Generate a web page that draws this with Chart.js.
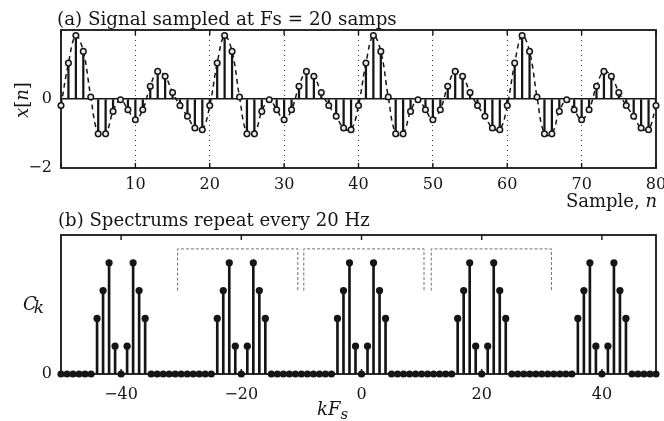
<!DOCTYPE html>
<html>
<head>
<meta charset="utf-8">
<script src="https://cdn.jsdelivr.net/npm/chart.js@4.4.1/dist/chart.umd.min.js"></script>
<style>
  body { margin: 0; background: #fff; }
  #wrap { position: relative; width: 664px; height: 421px; }
  #sigChart { position: absolute; left: 0; top: 0; }
  #specChart { position: absolute; left: 0; top: 200px; }
</style>
</head>
<body>
<div id="wrap">
  <canvas id="sigChart" width="664" height="215"></canvas>
  <canvas id="specChart" width="664" height="221"></canvas>
</div>
<script>
// (a) sampled signal, n = 0..80
const sampleN = Array.from({ length: 81 }, (_, i) => i);
const sampleX = [
  -0.19, 1.04, 1.84, 1.38, 0.06, -1.01, -1.01, -0.36, -0.02, -0.31,
  -0.60, -0.31, 0.37, 0.80, 0.66, 0.19, -0.19, -0.50, -0.84, -0.89,
  -0.19, 1.04, 1.84, 1.38, 0.06, -1.01, -1.01, -0.36, -0.02, -0.31,
  -0.60, -0.31, 0.37, 0.80, 0.66, 0.19, -0.19, -0.50, -0.84, -0.89,
  -0.19, 1.04, 1.84, 1.38, 0.06, -1.01, -1.01, -0.36, -0.02, -0.31,
  -0.60, -0.31, 0.37, 0.80, 0.66, 0.19, -0.19, -0.50, -0.84, -0.89,
  -0.19, 1.04, 1.84, 1.38, 0.06, -1.01, -1.01, -0.36, -0.02, -0.31,
  -0.60, -0.31, 0.37, 0.80, 0.66, 0.19, -0.19, -0.50, -0.84, -0.89,
  -0.19
];
const sigXTicks = [0, 10, 20, 30, 40, 50, 60, 70, 80];
const sigYTicks = [-2, 0];

// (b) spectrum, k = -50..49
const specK = Array.from({ length: 100 }, (_, i) => i - 50);
const specC = [
  0, 0, 0, 0, 0, 0, 2, 3, 4, 1, 0, 1, 4, 3, 2, 0, 0, 0, 0, 0,
  0, 0, 0, 0, 0, 0, 2, 3, 4, 1, 0, 1, 4, 3, 2, 0, 0, 0, 0, 0,
  0, 0, 0, 0, 0, 0, 2, 3, 4, 1, 0, 1, 4, 3, 2, 0, 0, 0, 0, 0,
  0, 0, 0, 0, 0, 0, 2, 3, 4, 1, 0, 1, 4, 3, 2, 0, 0, 0, 0, 0,
  0, 0, 0, 0, 0, 0, 2, 3, 4, 1, 0, 1, 4, 3, 2, 0, 0, 0, 0, 0
];
const specXTicks = [-40, -20, 0, 20, 40];
const specYTicks = [0];
const bracketStart = [-30.6, -9.6, 11.6];
const bracketEnd = [-10.6, 10.4, 31.6];
const bracketLow = 3;
const bracketHigh = 4.5;

const SERIF = '"DejaVu Serif", serif';
const INK = '#151515';

function fmtTick(v) {
  return v < 0 ? '\u2212' + Math.abs(v) : String(v);
}

function drawRuns(ctx, runs, x, y, align) {
  let w = 0;
  runs.forEach(r => { ctx.font = r.font; w += ctx.measureText(r.text).width + (r.kern || 0); });
  let cx = align === 'right' ? x - w : align === 'center' ? x - w / 2 : x;
  runs.forEach(r => {
    ctx.font = r.font;
    ctx.fillText(r.text, cx + (r.kern || 0), y + (r.dy || 0));
    cx += ctx.measureText(r.text).width + (r.kern || 0);
  });
}

// box + inward tick marks, drawn under the data
const frame = {
  id: 'frame',
  beforeDatasetsDraw(chart, args, opts) {
    const { ctx, chartArea: a } = chart;
    const x = chart.scales.x;
    ctx.save();
    ctx.strokeStyle = INK;
    ctx.lineWidth = 1.8;
    ctx.strokeRect(a.left, a.top, a.width, a.height);
    ctx.beginPath();
    x.ticks.forEach(t => {
      const px = x.getPixelForValue(t.value);
      ctx.moveTo(px, a.top);
      ctx.lineTo(px, a.top + 5);
      ctx.moveTo(px, a.bottom);
      ctx.lineTo(px, a.bottom - 5);
    });
    ctx.lineWidth = 1.4;
    ctx.stroke();
    ctx.restore();
  },
  afterDraw(chart, args, opts) {
    const ctx = chart.ctx;
    ctx.save();
    ctx.fillStyle = INK;
    ctx.textBaseline = 'alphabetic';
    (opts.texts || []).forEach(t => {
      if (t.rotate) {
        ctx.save();
        ctx.translate(t.x, t.y);
        ctx.rotate(-Math.PI / 2);
        ctx.textBaseline = 'middle';
        drawRuns(ctx, t.runs, 0, 0, 'center');
        ctx.restore();
      } else {
        drawRuns(ctx, t.runs, t.x, t.y, t.align);
      }
    });
    ctx.restore();
  }
};

const fitY = s => { s.width = 61; s.paddingTop = 0; s.paddingBottom = 0; };
const fitX = s => { s.height = 47; s.paddingLeft = 0; s.paddingRight = 0; };

const sigPts = sampleN.map((n, i) => ({ x: n, y: sampleX[i] }));

new Chart(document.getElementById('sigChart'), {
  type: 'bar',
  data: {
    datasets: [
      {
        type: 'line',
        data: sigPts,
        borderColor: INK,
        borderWidth: 1.5,
        borderDash: [5, 4],
        tension: 0.4,
        pointRadius: 0,
        fill: false,
        order: 2
      },
      {
        type: 'bar',
        data: sigPts,
        backgroundColor: INK,
        barThickness: 1.6,
        borderWidth: 0,
        order: 1
      },
      {
        type: 'line',
        data: sigPts,
        showLine: false,
        pointRadius: 2.8,
        pointBackgroundColor: '#e8e8e8',
        pointBorderColor: INK,
        pointBorderWidth: 1.5,
        clip: false,
        order: 0
      }
    ]
  },
  options: {
    responsive: false,
    animation: false,
    layout: { padding: { top: 30, right: 8, left: 0, bottom: 0 } },
    plugins: {
      legend: { display: false },
      tooltip: { enabled: false },
      frame: {
        texts: [
          { x: 57, y: 25, runs: [{ text: '(a) Signal sampled at Fs = 20 samps', font: '18.3px ' + SERIF }] },
          { x: 657, y: 207, align: 'right', runs: [
            { text: 'Sample, ', font: '18px ' + SERIF },
            { text: 'n', font: 'italic 18px ' + SERIF }
          ] },
          { x: 23, y: 100, rotate: true, runs: [
            { text: 'x', font: 'italic 18px ' + SERIF },
            { text: '[', font: '18px ' + SERIF },
            { text: 'n', font: 'italic 18px ' + SERIF },
            { text: ']', font: '18px ' + SERIF }
          ] }
        ]
      }
    },
    scales: {
      x: {
        type: 'linear',
        min: 0,
        max: 80,
        offset: false,
        afterFit: fitX,
        afterBuildTicks: s => { s.ticks = sigXTicks.map(v => ({ value: v })); },
        ticks: {
          callback: v => (v === 0 ? '' : fmtTick(v)),
          font: { family: SERIF, size: 16 },
          color: INK,
          padding: 7,
          maxRotation: 0,
          autoSkip: false
        },
        grid: {
          offset: false,
          drawTicks: false,
          lineWidth: 1,
          color: c => (c.tick && c.tick.value > 0 && c.tick.value < 80 ? '#333' : 'rgba(0,0,0,0)')
        },
        border: { display: false, dash: [1, 4] }
      },
      y: {
        min: -2,
        max: 2,
        afterFit: fitY,
        afterBuildTicks: s => { s.ticks = sigYTicks.map(v => ({ value: v })); },
        ticks: {
          callback: v => fmtTick(v),
          font: { family: SERIF, size: 16 },
          color: INK,
          padding: 9
        },
        grid: {
          drawTicks: false,
          lineWidth: 1.5,
          color: c => (c.tick && c.tick.value === 0 ? INK : 'rgba(0,0,0,0)')
        },
        border: { display: false }
      }
    }
  },
  plugins: [frame]
});

const specPts = specK.map((k, i) => ({ x: k, y: specC[i] }));
const bracketSets = bracketStart.map((s, i) => ({
  type: 'line',
  data: [
    { x: s, y: bracketLow },
    { x: s, y: bracketHigh },
    { x: bracketEnd[i], y: bracketHigh },
    { x: bracketEnd[i], y: bracketLow }
  ],
  borderColor: '#707070',
  borderWidth: 1,
  borderDash: [3, 2],
  tension: 0,
  pointRadius: 0,
  fill: false,
  order: 3
}));

new Chart(document.getElementById('specChart'), {
  type: 'bar',
  data: {
    datasets: [
      ...bracketSets,
      {
        type: 'bar',
        data: specPts,
        backgroundColor: INK,
        barThickness: 2,
        borderWidth: 0,
        order: 1
      },
      {
        type: 'line',
        data: specPts,
        showLine: false,
        pointRadius: 3.6,
        pointBackgroundColor: INK,
        pointBorderColor: INK,
        pointBorderWidth: 0,
        clip: false,
        order: 0
      }
    ]
  },
  options: {
    responsive: false,
    animation: false,
    layout: { padding: { top: 35, right: 8, left: 0, bottom: 0 } },
    plugins: {
      legend: { display: false },
      tooltip: { enabled: false },
      frame: {
        texts: [
          { x: 58, y: 26, runs: [{ text: '(b) Spectrums repeat every 20 Hz', font: '18.1px ' + SERIF }] },
          { x: 23, y: 110, runs: [
            { text: 'C', font: 'italic 18px ' + SERIF },
            { text: 'k', font: 'italic 17px ' + SERIF, dy: 3, kern: -3 }
          ] },
          { x: 317, y: 215, runs: [
            { text: 'kF', font: 'italic 18px ' + SERIF },
            { text: 's', font: 'italic 15px ' + SERIF, dy: 4 }
          ] }
        ]
      }
    },
    scales: {
      x: {
        type: 'linear',
        min: -50,
        max: 49,
        offset: false,
        afterFit: fitX,
        afterBuildTicks: s => { s.ticks = specXTicks.map(v => ({ value: v })); },
        ticks: {
          callback: v => fmtTick(v),
          font: { family: SERIF, size: 16 },
          color: INK,
          padding: 11,
          maxRotation: 0,
          autoSkip: false
        },
        grid: { display: false, offset: false, drawTicks: false },
        border: { display: false }
      },
      y: {
        min: 0,
        max: 5,
        afterFit: fitY,
        afterBuildTicks: s => { s.ticks = specYTicks.map(v => ({ value: v })); },
        ticks: {
          callback: v => fmtTick(v),
          font: { family: SERIF, size: 16 },
          color: INK,
          padding: 9
        },
        grid: { display: false, drawTicks: false },
        border: { display: false }
      }
    }
  },
  plugins: [frame]
});
</script>
</body>
</html>
